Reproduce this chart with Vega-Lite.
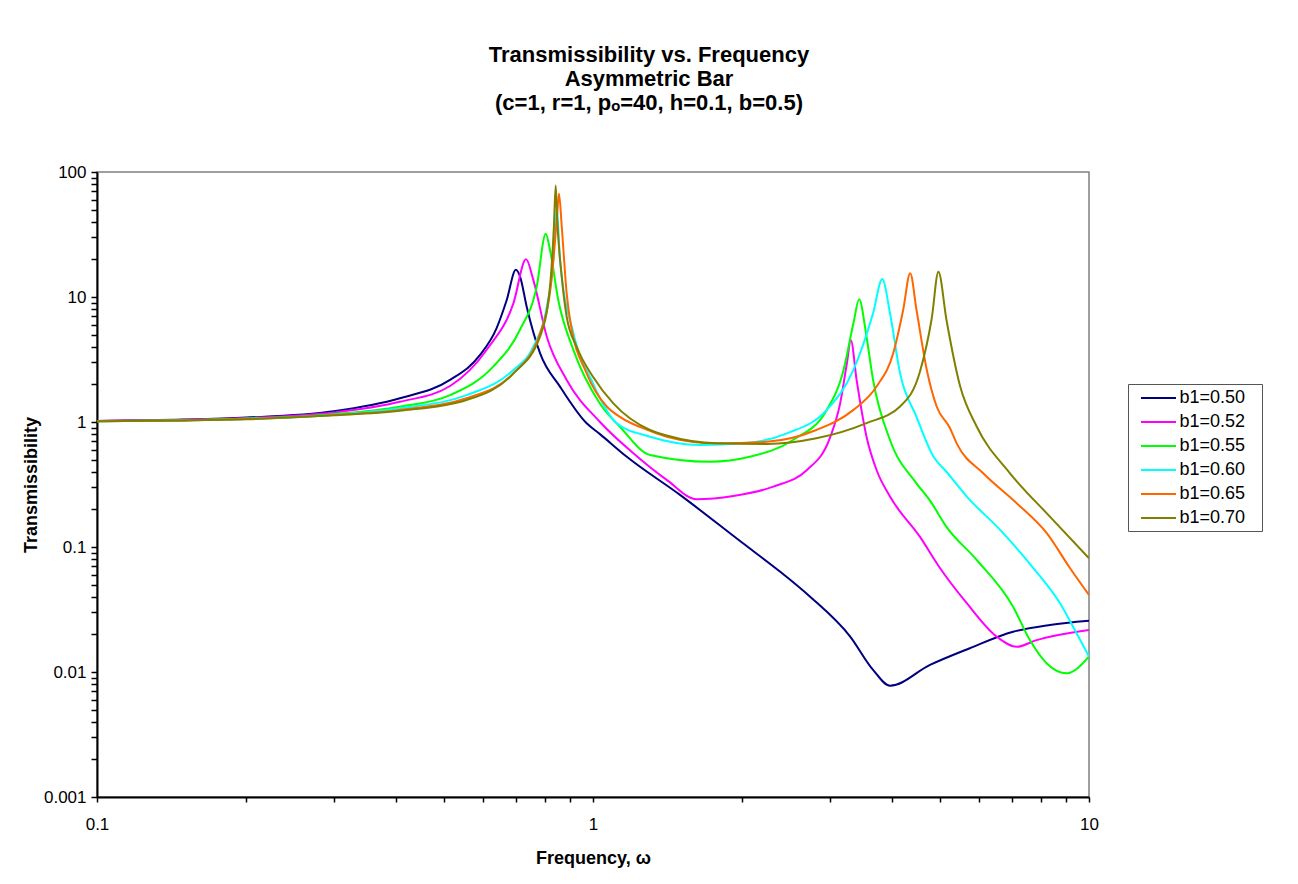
{
  "$schema": "https://vega.github.io/schema/vega-lite/v6.json",
  "width": 992,
  "height": 625,
  "autosize": {"type": "none"},
  "padding": {"left": 97, "top": 172, "right": 209, "bottom": 87},
  "background": "white",
  "title": {
    "text": ["Transmissibility vs. Frequency", "Asymmetric Bar", "(c=1, r=1, pₒ=40, h=0.1, b=0.5)"],
    "font": "Liberation Sans",
    "fontSize": 22,
    "fontWeight": "bold",
    "color": "black",
    "lineHeight": 24,
    "anchor": "middle",
    "dx": 56,
    "offset": 48
  },
  "datasets": {
    "curves": [
      {"b":"b1=0.50","w":0.1,"t":1.02},{"b":"b1=0.50","w":0.15,"t":1.045},{"b":"b1=0.50","w":0.2,"t":1.085},{"b":"b1=0.50","w":0.3,"t":1.22},{"b":"b1=0.50","w":0.408,"t":1.55},{"b":"b1=0.50","w":0.515,"t":2.17},{"b":"b1=0.50","w":0.592,"t":3.44},{"b":"b1=0.50","w":0.639,"t":5.62},{"b":"b1=0.50","w":0.67,"t":9.46},{"b":"b1=0.50","w":0.699,"t":16.5},{"b":"b1=0.50","w":0.713,"t":14.5},{"b":"b1=0.50","w":0.735,"t":8.37},{"b":"b1=0.50","w":0.782,"t":3.56},{"b":"b1=0.50","w":0.858,"t":1.92},{"b":"b1=0.50","w":0.971,"t":0.976},{"b":"b1=0.50","w":1.033,"t":0.8},{"b":"b1=0.50","w":1.17,"t":0.527},{"b":"b1=0.50","w":1.5,"t":0.26},{"b":"b1=0.50","w":2.0,"t":0.108},{"b":"b1=0.50","w":2.36,"t":0.0655},{"b":"b1=0.50","w":2.74,"t":0.04},{"b":"b1=0.50","w":3.3,"t":0.0192},{"b":"b1=0.50","w":3.67,"t":0.0104},{"b":"b1=0.50","w":3.97,"t":0.00777},{"b":"b1=0.50","w":4.78,"t":0.0114},{"b":"b1=0.50","w":5.75,"t":0.0155},{"b":"b1=0.50","w":7.03,"t":0.021},{"b":"b1=0.50","w":8.34,"t":0.0238},{"b":"b1=0.50","w":10,"t":0.0257},

      {"b":"b1=0.52","w":0.1,"t":1.02},{"b":"b1=0.52","w":0.15,"t":1.04},{"b":"b1=0.52","w":0.2,"t":1.075},{"b":"b1=0.52","w":0.3,"t":1.19},{"b":"b1=0.52","w":0.408,"t":1.45},{"b":"b1=0.52","w":0.515,"t":1.94},{"b":"b1=0.52","w":0.61,"t":3.77},{"b":"b1=0.52","w":0.691,"t":8.9},{"b":"b1=0.52","w":0.733,"t":20},{"b":"b1=0.52","w":0.758,"t":13.7},{"b":"b1=0.52","w":0.807,"t":4.81},{"b":"b1=0.52","w":0.885,"t":2.17},{"b":"b1=0.52","w":1.033,"t":1.0},{"b":"b1=0.52","w":1.206,"t":0.562},{"b":"b1=0.52","w":1.408,"t":0.344},{"b":"b1=0.52","w":1.618,"t":0.241},{"b":"b1=0.52","w":1.918,"t":0.256},{"b":"b1=0.52","w":2.31,"t":0.304},{"b":"b1=0.52","w":2.7,"t":0.413},{"b":"b1=0.52","w":3.01,"t":0.763},{"b":"b1=0.52","w":3.15,"t":1.41},{"b":"b1=0.52","w":3.25,"t":2.95},{"b":"b1=0.52","w":3.31,"t":4.5},{"b":"b1=0.52","w":3.4,"t":2.17},{"b":"b1=0.52","w":3.56,"t":0.763},{"b":"b1=0.52","w":3.73,"t":0.413},{"b":"b1=0.52","w":3.97,"t":0.253},{"b":"b1=0.52","w":4.56,"t":0.121},{"b":"b1=0.52","w":5.01,"t":0.0676},{"b":"b1=0.52","w":5.67,"t":0.0355},{"b":"b1=0.52","w":6.51,"t":0.0192},{"b":"b1=0.52","w":7.15,"t":0.0159},{"b":"b1=0.52","w":7.84,"t":0.018},{"b":"b1=0.52","w":10,"t":0.0217},

      {"b":"b1=0.55","w":0.1,"t":1.015},{"b":"b1=0.55","w":0.15,"t":1.035},{"b":"b1=0.55","w":0.2,"t":1.065},{"b":"b1=0.55","w":0.3,"t":1.155},{"b":"b1=0.55","w":0.408,"t":1.325},{"b":"b1=0.55","w":0.515,"t":1.64},{"b":"b1=0.55","w":0.629,"t":2.77},{"b":"b1=0.55","w":0.712,"t":5.44},{"b":"b1=0.55","w":0.77,"t":12.1},{"b":"b1=0.55","w":0.803,"t":32},{"b":"b1=0.55","w":0.819,"t":23.8},{"b":"b1=0.55","w":0.851,"t":9.46},{"b":"b1=0.55","w":0.913,"t":3.77},{"b":"b1=0.55","w":1.033,"t":1.4},{"b":"b1=0.55","w":1.133,"t":0.917},{"b":"b1=0.55","w":1.303,"t":0.545},{"b":"b1=0.55","w":1.72,"t":0.481},{"b":"b1=0.55","w":2.07,"t":0.527},{"b":"b1=0.55","w":2.53,"t":0.718},{"b":"b1=0.55","w":2.96,"t":1.25},{"b":"b1=0.55","w":3.2,"t":2.61},{"b":"b1=0.55","w":3.35,"t":6.16},{"b":"b1=0.55","w":3.44,"t":9.6},{"b":"b1=0.55","w":3.56,"t":4.81},{"b":"b1=0.55","w":3.67,"t":2.17},{"b":"b1=0.55","w":3.97,"t":0.718},{"b":"b1=0.55","w":4.49,"t":0.323},{"b":"b1=0.55","w":4.78,"t":0.235},{"b":"b1=0.55","w":5.16,"t":0.145},{"b":"b1=0.55","w":5.94,"t":0.0787},{"b":"b1=0.55","w":7.03,"t":0.0333},{"b":"b1=0.55","w":7.6,"t":0.018},{"b":"b1=0.55","w":8.22,"t":0.0117},{"b":"b1=0.55","w":9.02,"t":0.00977},{"b":"b1=0.55","w":10,"t":0.0133},

      {"b":"b1=0.60","w":0.1,"t":1.014},{"b":"b1=0.60","w":0.15,"t":1.03},{"b":"b1=0.60","w":0.2,"t":1.058},{"b":"b1=0.60","w":0.3,"t":1.14},{"b":"b1=0.60","w":0.408,"t":1.29},{"b":"b1=0.60","w":0.556,"t":1.64},{"b":"b1=0.60","w":0.691,"t":2.61},{"b":"b1=0.60","w":0.758,"t":4.0},{"b":"b1=0.60","w":0.807,"t":8.37},{"b":"b1=0.60","w":0.832,"t":19.8},{"b":"b1=0.60","w":0.845,"t":52},{"b":"b1=0.60","w":0.858,"t":19.8},{"b":"b1=0.60","w":0.913,"t":5.12},{"b":"b1=0.60","w":1.0,"t":2.04},{"b":"b1=0.60","w":1.033,"t":1.55},{"b":"b1=0.60","w":1.116,"t":0.976},{"b":"b1=0.60","w":1.303,"t":0.763},{"b":"b1=0.60","w":1.643,"t":0.655},{"b":"b1=0.60","w":2.01,"t":0.675},{"b":"b1=0.60","w":2.46,"t":0.812},{"b":"b1=0.60","w":2.96,"t":1.25},{"b":"b1=0.60","w":3.35,"t":2.61},{"b":"b1=0.60","w":3.67,"t":7.41},{"b":"b1=0.60","w":3.83,"t":13.9},{"b":"b1=0.60","w":3.97,"t":7.41},{"b":"b1=0.60","w":4.16,"t":2.45},{"b":"b1=0.60","w":4.49,"t":1.1},{"b":"b1=0.60","w":4.86,"t":0.527},{"b":"b1=0.60","w":5.16,"t":0.4},{"b":"b1=0.60","w":5.67,"t":0.253},{"b":"b1=0.60","w":6.62,"t":0.137},{"b":"b1=0.60","w":7.73,"t":0.0676},{"b":"b1=0.60","w":8.74,"t":0.0355},{"b":"b1=0.60","w":9.44,"t":0.0204},{"b":"b1=0.60","w":10,"t":0.0133},

      {"b":"b1=0.65","w":0.1,"t":1.013},{"b":"b1=0.65","w":0.15,"t":1.03},{"b":"b1=0.65","w":0.2,"t":1.055},{"b":"b1=0.65","w":0.3,"t":1.135},{"b":"b1=0.65","w":0.408,"t":1.25},{"b":"b1=0.65","w":0.556,"t":1.55},{"b":"b1=0.65","w":0.691,"t":2.45},{"b":"b1=0.65","w":0.782,"t":5.12},{"b":"b1=0.65","w":0.826,"t":14.5},{"b":"b1=0.65","w":0.845,"t":41},{"b":"b1=0.65","w":0.854,"t":67},{"b":"b1=0.65","w":0.865,"t":36.5},{"b":"b1=0.65","w":0.885,"t":10.7},{"b":"b1=0.65","w":0.899,"t":6.55},{"b":"b1=0.65","w":0.971,"t":2.45},{"b":"b1=0.65","w":1.066,"t":1.33},{"b":"b1=0.65","w":1.133,"t":1.1},{"b":"b1=0.65","w":1.303,"t":0.85},{"b":"b1=0.65","w":1.408,"t":0.763},{"b":"b1=0.65","w":1.776,"t":0.675},{"b":"b1=0.65","w":2.24,"t":0.695},{"b":"b1=0.65","w":2.82,"t":0.863},{"b":"b1=0.65","w":3.35,"t":1.25},{"b":"b1=0.65","w":3.73,"t":1.92},{"b":"b1=0.65","w":4.03,"t":3.55},{"b":"b1=0.65","w":4.22,"t":7.87},{"b":"b1=0.65","w":4.36,"t":15.5},{"b":"b1=0.65","w":4.49,"t":7.87},{"b":"b1=0.65","w":4.71,"t":2.61},{"b":"b1=0.65","w":4.93,"t":1.33},{"b":"b1=0.65","w":5.24,"t":0.9},{"b":"b1=0.65","w":5.41,"t":0.675},{"b":"b1=0.65","w":6.12,"t":0.389},{"b":"b1=0.65","w":7.15,"t":0.224},{"b":"b1=0.65","w":8.22,"t":0.129},{"b":"b1=0.65","w":9.16,"t":0.0676},{"b":"b1=0.65","w":10,"t":0.0413},

      {"b":"b1=0.70","w":0.1,"t":1.012},{"b":"b1=0.70","w":0.15,"t":1.028},{"b":"b1=0.70","w":0.2,"t":1.053},{"b":"b1=0.70","w":0.3,"t":1.13},{"b":"b1=0.70","w":0.408,"t":1.23},{"b":"b1=0.70","w":0.556,"t":1.5},{"b":"b1=0.70","w":0.691,"t":2.45},{"b":"b1=0.70","w":0.782,"t":4.81},{"b":"b1=0.70","w":0.819,"t":12.1},{"b":"b1=0.70","w":0.834,"t":36.5},{"b":"b1=0.70","w":0.841,"t":78},{"b":"b1=0.70","w":0.847,"t":41.3},{"b":"b1=0.70","w":0.865,"t":14.5},{"b":"b1=0.70","w":0.885,"t":6.95},{"b":"b1=0.70","w":0.927,"t":4.0},{"b":"b1=0.70","w":1.0,"t":2.3},{"b":"b1=0.70","w":1.099,"t":1.41},{"b":"b1=0.70","w":1.303,"t":0.863},{"b":"b1=0.70","w":1.408,"t":0.78},{"b":"b1=0.70","w":1.776,"t":0.675},{"b":"b1=0.70","w":2.24,"t":0.667},{"b":"b1=0.70","w":2.82,"t":0.74},{"b":"b1=0.70","w":3.56,"t":0.98},{"b":"b1=0.70","w":4.16,"t":1.33},{"b":"b1=0.70","w":4.56,"t":2.51},{"b":"b1=0.70","w":4.82,"t":6.79},{"b":"b1=0.70","w":4.97,"t":15.9},{"b":"b1=0.70","w":5.16,"t":6.55},{"b":"b1=0.70","w":5.5,"t":1.92},{"b":"b1=0.70","w":5.94,"t":0.917},{"b":"b1=0.70","w":6.93,"t":0.389},{"b":"b1=0.70","w":8.34,"t":0.175},{"b":"b1=0.70","w":10,"t":0.0812}
    ]
  },
  "data": {"name": "curves"},
  "mark": {"type": "line", "strokeWidth": 2, "interpolate": "monotone", "clip": true},
  "encoding": {
    "x": {
      "field": "w",
      "type": "quantitative",
      "scale": {"type": "log", "domain": [0.1, 10], "nice": false},
      "axis": {
        "title": "Frequency, ω",
        "values": [0.1,0.2,0.3,0.4,0.5,0.6,0.7,0.8,0.9,1,2,3,4,5,6,7,8,9,10],
        "labelExpr": "indexof([0.1,1,10], datum.value) >= 0 ? format(datum.value, '~g') : ''",
        "labelFlush": false,
        "labelOverlap": false,
        "tickSize": 5,
        "labelPadding": 14.5,
        "titleBaseline": "alphabetic",
        "titleY": 66
      }
    },
    "y": {
      "field": "t",
      "type": "quantitative",
      "scale": {"type": "log", "domain": [0.001, 100], "nice": false},
      "axis": {
        "title": "Transmissibility",
        "values": [0.001,0.002,0.003,0.004,0.005,0.006,0.007,0.008,0.009,0.01,0.02,0.03,0.04,0.05,0.06,0.07,0.08,0.09,0.1,0.2,0.3,0.4,0.5,0.6,0.7,0.8,0.9,1,2,3,4,5,6,7,8,9,10,20,30,40,50,60,70,80,90,100],
        "labelExpr": "indexof([0.001,0.01,0.1,1,10,100], datum.value) >= 0 ? format(datum.value, '~g') : ''",
        "labelFlush": false,
        "labelOverlap": false,
        "tickSize": 6,
        "labelPadding": 5,
        "titleBaseline": "alphabetic",
        "titleX": -61,
        "titleY": 312.5,
        "titleAngle": 270
      }
    },
    "color": {
      "field": "b",
      "type": "nominal",
      "scale": {
        "domain": ["b1=0.50","b1=0.52","b1=0.55","b1=0.60","b1=0.65","b1=0.70"],
        "range": ["#000080","#FF00FF","#00FF00","#00FFFF","#FF6600","#808000"]
      },
      "legend": {
        "title": null,
        "orient": "none",
        "legendX": 1031,
        "legendY": 212,
        "labelFont": "Liberation Sans",
        "labelFontSize": 18,
        "labelColor": "black",
        "symbolType": "M-2,0L2,0M10.9,0",
        "symbolSize": 306,
        "symbolStrokeWidth": 2,
        "strokeColor": "#555555",
        "padding": 4,
        "rowPadding": 5,
        "symbolOffset": 16.5,
        "labelOffset": 11
      }
    }
  },
  "config": {
    "view": {"stroke": "#808080", "strokeWidth": 1.5},
    "axis": {
      "grid": false,
      "domainColor": "black",
      "domainWidth": 2,
      "tickColor": "black",
      "tickWidth": 1.5,
      "labelFont": "Liberation Sans",
      "labelFontSize": 17,
      "labelColor": "black",
      "titleFont": "Liberation Sans",
      "titleFontSize": 18,
      "titleFontWeight": "bold",
      "titleColor": "black"
    }
  }
}
